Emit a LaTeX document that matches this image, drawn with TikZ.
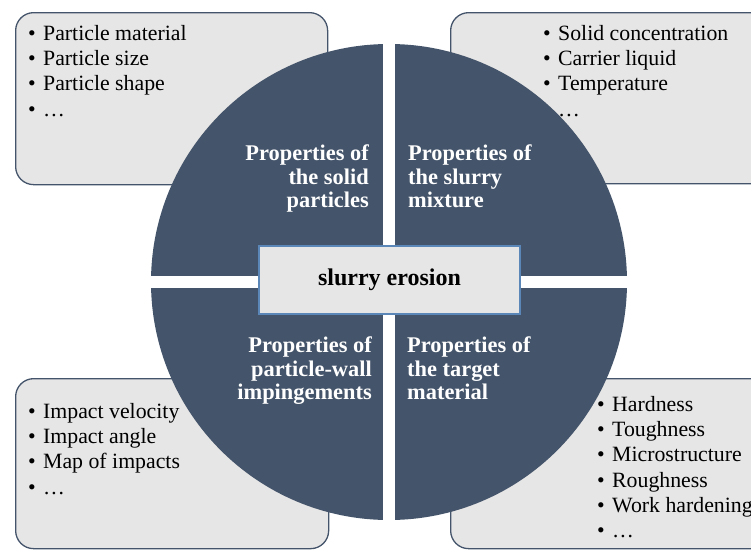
\documentclass[tikz,border=0pt]{standalone}
\usepackage{fontspec}
\setmainfont{Liberation Serif}
\usepackage{tikz}
\usetikzlibrary{positioning}
\definecolor{slateBlue}{HTML}{44546A}
\definecolor{boxGray}{HTML}{E7E6E6}
\definecolor{rimBlue}{HTML}{5B87B8}
\newcommand{\lstbul}{\makebox[15pt][l]{\textbullet}}

\begin{document}
\begin{tikzpicture}[x=1pt,y=-1pt,
    infobox/.style={draw=slateBlue,line width=1.3pt,fill=boxGray,rounded corners=18pt,anchor=north west,inner sep=0pt},
    itemlist/.style={anchor=north west,align=left,inner sep=0pt,font=\fontsize{21.8pt}{25.3pt}\selectfont},
    quadlabel/.style={inner sep=0pt,text=white,font=\bfseries\fontsize{22.4pt}{23.3pt}\selectfont}]
    \clip (0,0) rectangle (751,549);
    \node[infobox,minimum width=312pt,minimum height=172pt] (boxTL) at (15,12) {};
    \node[infobox,minimum width=330pt,minimum height=171pt] (boxTR) at (450,12) {};
    \node[infobox,minimum width=313pt,minimum height=170pt] (boxBL) at (15,378) {};
    \node[infobox,minimum width=330pt,minimum height=170pt] (boxBR) at (450,378) {};
    \node[itemlist] (listTL) at (28,25) {\lstbul Particle material\\ \lstbul Particle size\\ \lstbul Particle shape\\ \lstbul \dots};
    \node[itemlist] (listTR) at (543,25) {\lstbul Solid concentration\\ \lstbul Carrier liquid\\ \lstbul Temperature\\ \lstbul \dots};
    \node[itemlist] (listBL) at (28,403) {\lstbul Impact velocity\\ \lstbul Impact angle\\ \lstbul Map of impacts\\ \lstbul \dots};
    \node[itemlist] (listBR) at (597,396) {\lstbul Hardness\\ \lstbul Toughness\\ \lstbul Microstructure\\ \lstbul Roughness\\ \lstbul Work hardening\\ \lstbul \dots};
    \begin{scope}
      \clip (389,282) circle[radius=238];
      \foreach \sx/\sy in {-1/-1,1/-1,-1/1,1/1}
        \fill[slateBlue] (389+6*\sx,282+6*\sy) rectangle (389+250*\sx,282+250*\sy);
    \end{scope}
    \node[quadlabel,anchor=north east,align=right] (solidTL) at (369,145) {Properties of\\ the solid\\ particles};
    \node[quadlabel,anchor=north west,align=left] (slurryTR) at (408,145) {Properties of\\ the slurry\\ mixture};
    \node[quadlabel,anchor=north east,align=right] (wallBL) at (372,337) {Properties of\\ particle-wall\\ impingements};
    \node[quadlabel,anchor=north west,align=left] (targetBR) at (407,337) {Properties of\\ the target\\ material};
    \node[draw=rimBlue,line width=1.5pt,fill=boxGray,minimum width=261pt,minimum height=68pt,
      font=\bfseries\fontsize{24pt}{27pt}\selectfont] (erosion) at (389.5,280) {slurry erosion};
  \end{tikzpicture}
\end{document}
